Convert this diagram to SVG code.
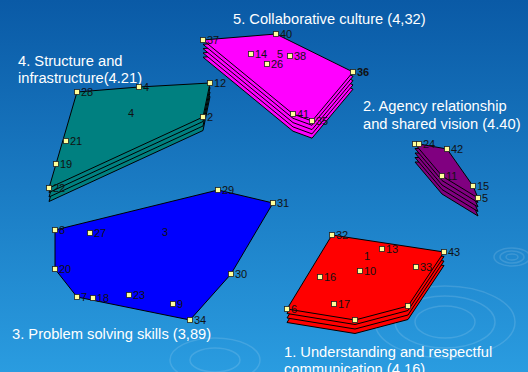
<svg xmlns="http://www.w3.org/2000/svg" xmlns:xlink="http://www.w3.org/1999/xlink" width="528" height="372" viewBox="0 0 528 372">
<defs>
<linearGradient id="bg" x1="0" y1="0" x2="0" y2="1">
<stop offset="0" stop-color="#0a5aa6"/>
<stop offset="1" stop-color="#2a9ce0"/>
</linearGradient>
<polygon id="p-teal" points="77,92 139,87 210,83 203,117 49,188"/>
<polygon id="p-mag" points="203,40 276,34 353,72 312,121 293,114"/>
<polygon id="p-pur" points="415,144 419,144 447,149 473,186 478,198 442,176"/>
<polygon id="p-red" points="332,235 444,252 408,306 355,320 287,309"/>
<rect id="mk" x="-2.5" y="-2.5" width="5" height="5"/>
</defs>
<style>
.t{font-family:"Liberation Sans",Arial,sans-serif;font-size:14.7px;fill:#ffffff}
.n{font-family:"Liberation Sans",Arial,sans-serif;font-size:11px;fill:#111111}
.c{font-family:"Liberation Sans",Arial,sans-serif;font-size:11px;fill:#111111;text-anchor:middle}
.sh{stroke:#000;stroke-width:1;stroke-linejoin:round}
.mk{fill:#ffff99;stroke:#222;stroke-width:0.8}
.rp{fill:none;stroke:#ffffff;stroke-opacity:0.13;stroke-width:1.5}
</style>
<rect width="528" height="372" fill="url(#bg)"/>
<g id="ripples">
<ellipse class="rp" cx="512" cy="257" rx="6" ry="3"/>
<ellipse class="rp" cx="512" cy="257" rx="12" ry="6"/>
<ellipse class="rp" cx="512" cy="257" rx="18" ry="9"/>
<ellipse class="rp" cx="445" cy="322" rx="30" ry="16"/>
<ellipse class="rp" cx="445" cy="322" rx="50" ry="26"/>
<ellipse class="rp" cx="445" cy="322" rx="70" ry="36"/>
<ellipse class="rp" cx="215" cy="360" rx="25" ry="12"/>
<ellipse class="rp" cx="215" cy="360" rx="45" ry="22"/>
</g>
<g id="titles">
<text class="t" x="233" y="24">5. Collaborative culture (4,32)</text>
<text class="t" x="18" y="66">4. Structure and</text>
<text class="t" x="18" y="83">infrastructure(4.21)</text>
<text class="t" x="363" y="111">2. Agency relationship</text>
<text class="t" x="363" y="129">and shared vision (4.40)</text>
<text class="t" x="12" y="339">3. Problem solving skills (3,89)</text>
<text class="t" x="284" y="357">1. Understanding and respectful</text>
<text class="t" x="284" y="374">communication (4,16)</text>
</g>
<g id="cluster4" fill="#008080">
<use xlink:href="#p-teal" class="sh" transform="translate(0,13.5)"/>
<use xlink:href="#p-teal" class="sh" transform="translate(0,9)"/>
<use xlink:href="#p-teal" class="sh" transform="translate(0,4.5)"/>
<use xlink:href="#p-teal" class="sh"/>
<text class="c" x="131" y="117">4</text>
<use xlink:href="#mk" class="mk" x="77" y="92"/><text class="n" x="81" y="96">28</text>
<use xlink:href="#mk" class="mk" x="139" y="87"/><text class="n" x="143" y="91">4</text>
<use xlink:href="#mk" class="mk" x="210" y="83"/><text class="n" x="214" y="87">12</text>
<use xlink:href="#mk" class="mk" x="203" y="117"/><text class="n" x="207" y="121">2</text>
<use xlink:href="#mk" class="mk" x="66" y="141"/><text class="n" x="70" y="145">21</text>
<use xlink:href="#mk" class="mk" x="56" y="164"/><text class="n" x="60" y="168">19</text>
<use xlink:href="#mk" class="mk" x="49" y="188"/><text class="n" x="53" y="192">22</text>
</g>
<g id="cluster5" fill="#ff00ff">
<use xlink:href="#p-mag" class="sh" transform="translate(0,17.2)"/>
<use xlink:href="#p-mag" class="sh" transform="translate(0,12.9)"/>
<use xlink:href="#p-mag" class="sh" transform="translate(0,8.6)"/>
<use xlink:href="#p-mag" class="sh" transform="translate(0,4.3)"/>
<use xlink:href="#p-mag" class="sh"/>
<text class="c" x="280" y="58">5</text>
<use xlink:href="#mk" class="mk" x="203" y="40"/><text class="n" x="207" y="44">37</text>
<use xlink:href="#mk" class="mk" x="276" y="34"/><text class="n" x="280" y="38">40</text>
<use xlink:href="#mk" class="mk" x="353" y="72"/><text class="n" x="357" y="76" font-weight="bold">36</text>
<use xlink:href="#mk" class="mk" x="251" y="54"/><text class="n" x="255" y="58">14</text>
<use xlink:href="#mk" class="mk" x="290" y="56"/><text class="n" x="294" y="60">38</text>
<use xlink:href="#mk" class="mk" x="267" y="64"/><text class="n" x="271" y="68">26</text>
<use xlink:href="#mk" class="mk" x="293" y="114"/><text class="n" x="297" y="118">41</text>
<use xlink:href="#mk" class="mk" x="312" y="121"/><text class="n" x="316" y="125">35</text>
</g>
<g id="cluster2" fill="#800080">
<use xlink:href="#p-pur" class="sh" transform="translate(0,18)"/>
<use xlink:href="#p-pur" class="sh" transform="translate(0,13.5)"/>
<use xlink:href="#p-pur" class="sh" transform="translate(0,9)"/>
<use xlink:href="#p-pur" class="sh" transform="translate(0,4.5)"/>
<use xlink:href="#p-pur" class="sh"/>
<use xlink:href="#mk" class="mk" x="415" y="144"/>
<use xlink:href="#mk" class="mk" x="419" y="144"/><text class="n" x="423" y="148">24</text>
<use xlink:href="#mk" class="mk" x="447" y="149"/><text class="n" x="451" y="153">42</text>
<use xlink:href="#mk" class="mk" x="442" y="176"/><text class="n" x="446" y="180">11</text>
<use xlink:href="#mk" class="mk" x="473" y="186"/><text class="n" x="477" y="190">15</text>
<use xlink:href="#mk" class="mk" x="478" y="198"/><text class="n" x="482" y="202">5</text>
</g>
<g id="cluster3" fill="#0000ff">
<polygon class="sh" points="55,230 218,190 273,203 231,274 190,320 77,297 55,269"/>
<text class="c" x="165" y="236">3</text>
<use xlink:href="#mk" class="mk" x="218" y="190"/><text class="n" x="222" y="194">29</text>
<use xlink:href="#mk" class="mk" x="273" y="203"/><text class="n" x="277" y="207">31</text>
<use xlink:href="#mk" class="mk" x="55" y="230"/><text class="n" x="59" y="234">8</text>
<use xlink:href="#mk" class="mk" x="90" y="233"/><text class="n" x="94" y="237">27</text>
<use xlink:href="#mk" class="mk" x="55" y="269"/><text class="n" x="59" y="273">20</text>
<use xlink:href="#mk" class="mk" x="77" y="297"/><text class="n" x="81" y="301">7</text>
<use xlink:href="#mk" class="mk" x="93" y="298"/><text class="n" x="97" y="302">18</text>
<use xlink:href="#mk" class="mk" x="129" y="295"/><text class="n" x="133" y="299">23</text>
<use xlink:href="#mk" class="mk" x="173" y="304"/><text class="n" x="177" y="308">9</text>
<use xlink:href="#mk" class="mk" x="231" y="274"/><text class="n" x="235" y="278">30</text>
<use xlink:href="#mk" class="mk" x="190" y="320"/><text class="n" x="194" y="324">34</text>
</g>
<g id="cluster1" fill="#ff0000">
<use xlink:href="#p-red" class="sh" transform="translate(0,13.5)"/>
<use xlink:href="#p-red" class="sh" transform="translate(0,9)"/>
<use xlink:href="#p-red" class="sh" transform="translate(0,4.5)"/>
<use xlink:href="#p-red" class="sh"/>
<text class="c" x="367" y="260">1</text>
<use xlink:href="#mk" class="mk" x="332" y="235"/><text class="n" x="336" y="239">32</text>
<use xlink:href="#mk" class="mk" x="382" y="249"/><text class="n" x="386" y="253">13</text>
<use xlink:href="#mk" class="mk" x="444" y="252"/><text class="n" x="448" y="256">43</text>
<use xlink:href="#mk" class="mk" x="360" y="271"/><text class="n" x="364" y="275">10</text>
<use xlink:href="#mk" class="mk" x="416" y="267"/><text class="n" x="420" y="271">33</text>
<use xlink:href="#mk" class="mk" x="320" y="277"/><text class="n" x="324" y="281">16</text>
<use xlink:href="#mk" class="mk" x="334" y="304"/><text class="n" x="338" y="308">17</text>
<use xlink:href="#mk" class="mk" x="287" y="309"/><text class="n" x="291" y="313">6</text>
<use xlink:href="#mk" class="mk" x="355" y="320"/>
<use xlink:href="#mk" class="mk" x="408" y="306"/>
</g>
</svg>
